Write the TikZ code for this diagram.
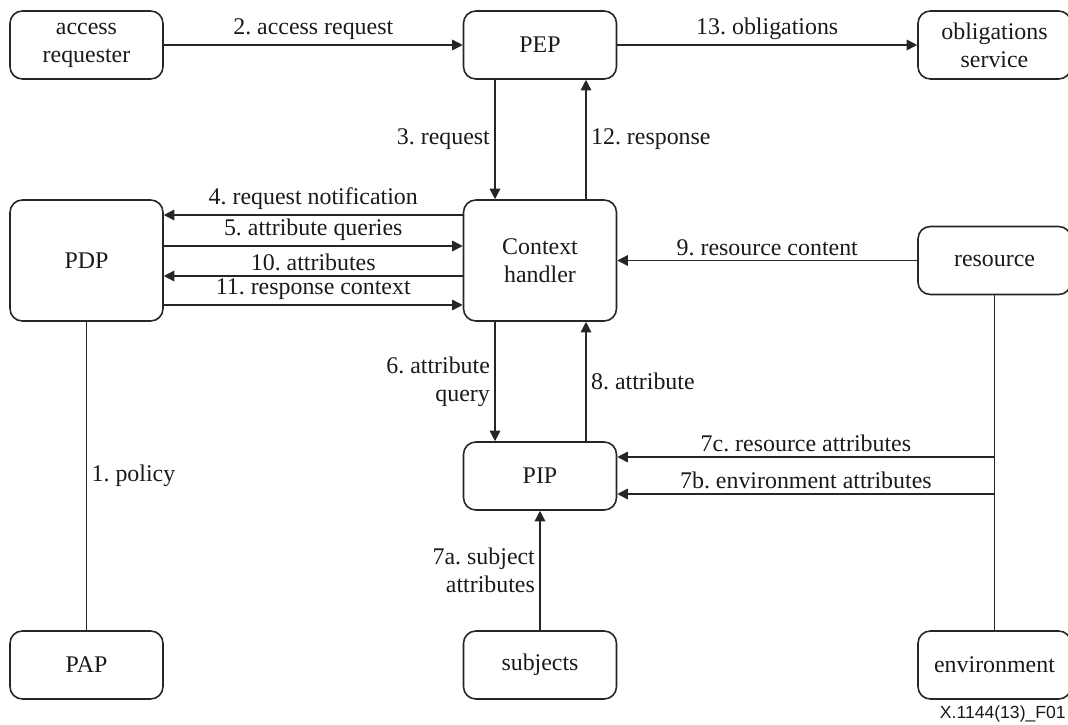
\documentclass[tikz,border=0pt]{standalone}
\usepackage{fontspec}
\setmainfont{Liberation Serif}
\setsansfont{Liberation Sans}
\frenchspacing
\usetikzlibrary{arrows.meta, positioning}
\definecolor{c1}{HTML}{262626}
\definecolor{labelcolor}{HTML}{1A1A1A}

\begin{document}
\begin{tikzpicture}[
    x=0.02cm, y=-0.02cm,
    every node/.style={font=\fontsize{13.6}{16}\selectfont, text=labelcolor},
    arr/.style={-{Triangle[length=6pt, width=6pt]}, line width=0.85pt, draw=c1},
    wire/.style={line width=0.85pt, draw=c1},
    lab/.style={inner sep=2.5pt},
    box/.style={rectangle, rounded corners=7pt, draw=c1, line width=0.9pt,
                minimum width=3.06cm, minimum height=1.36cm,
                align=center, inner sep=0pt},
    tall/.style={box, minimum height=2.42cm},
]
\useasboundingbox (0,0) rectangle (1068,724);

% ================================================================ boxes
\node[box]  (req)  at (86.5, 45)   {access\\requester};
\node[box]  (pep)  at (540, 45)    {PEP};
\node[box]  (obl)  at (994.5, 45)  {obligations\\service};

\node[tall] (pdp)  at (86.5, 260.5) {PDP};
\node[tall] (ctx)  at (540, 260.5)  {Context\\handler};
\node[box]  (res)  at (994.5, 260.5) {resource};

\node[box]  (pip)  at (540, 476)   {PIP};

\node[box]  (pap)  at (86.5, 665)  {PAP};
\node[box]  (subj) at (540, 665)   {subjects};
\node[box]  (env)  at (994.5, 665) {environment};

% ================================================================ top row
\draw[arr] (req) -- (pep) node[lab, midway, above] {2. access request};
\draw[arr] (pep) -- (obl) node[lab, midway, above] {13. obligations};

% PEP <-> context handler
\draw[arr] ([xshift=-0.9cm]pep.south) -- ([xshift=-0.9cm]ctx.north)
    node[lab, midway, left] {3. request};
\draw[arr] ([xshift=0.92cm]ctx.north) -- ([xshift=0.92cm]pep.south)
    node[lab, midway, right] {12. response};

% PDP <-> context handler
\draw[arr] ([yshift=0.91cm]ctx.west) -- ([yshift=0.91cm]pdp.east)
    node[lab, midway, above] {4. request notification};
\draw[arr] ([yshift=0.29cm]pdp.east) -- ([yshift=0.29cm]ctx.west)
    node[lab, midway, above] {5. attribute queries};
\draw[arr] ([yshift=-0.31cm]ctx.west) -- ([yshift=-0.31cm]pdp.east)
    node[lab, midway, above] {10. attributes};
\draw[arr] ([yshift=-0.89cm]pdp.east) -- ([yshift=-0.89cm]ctx.west)
    node[lab, midway, above] {11. response context};

\draw[arr] (res) -- (ctx) node[lab, midway, above] {9. resource content};

% context handler <-> PIP
\draw[arr] ([xshift=-0.9cm]ctx.south) -- ([xshift=-0.9cm]pip.north)
    node[lab, midway, left, align=right] {6. attribute\\query};
\draw[arr] ([xshift=0.92cm]pip.north) -- ([xshift=0.92cm]ctx.south)
    node[lab, midway, right] {8. attribute};

% policy
\draw[wire] (pdp) -- (pap) node[lab, midway, right] {1. policy};

% attributes into PIP
\draw[arr] (subj) -- (pip)
    node[lab, midway, left, align=right] {7a. subject\\attributes};

\draw[wire] (res) -- (env);
\path ([yshift=0.38cm]pip.east) coordinate (p7c)
      ([yshift=-0.36cm]pip.east) coordinate (p7b);
\draw[arr] (p7c -| res.south) -- (p7c)
    node[lab, midway, above] {7c. resource attributes};
\draw[arr] (p7b -| res.south) -- (p7b)
    node[lab, midway, above] {7b. environment attributes};

\node[anchor=east, font=\sffamily\fontsize{10}{12}\selectfont, inner sep=0pt]
    (fig) at (1066, 714) {X.1144(13)\_F01};

\end{tikzpicture}
\end{document}
